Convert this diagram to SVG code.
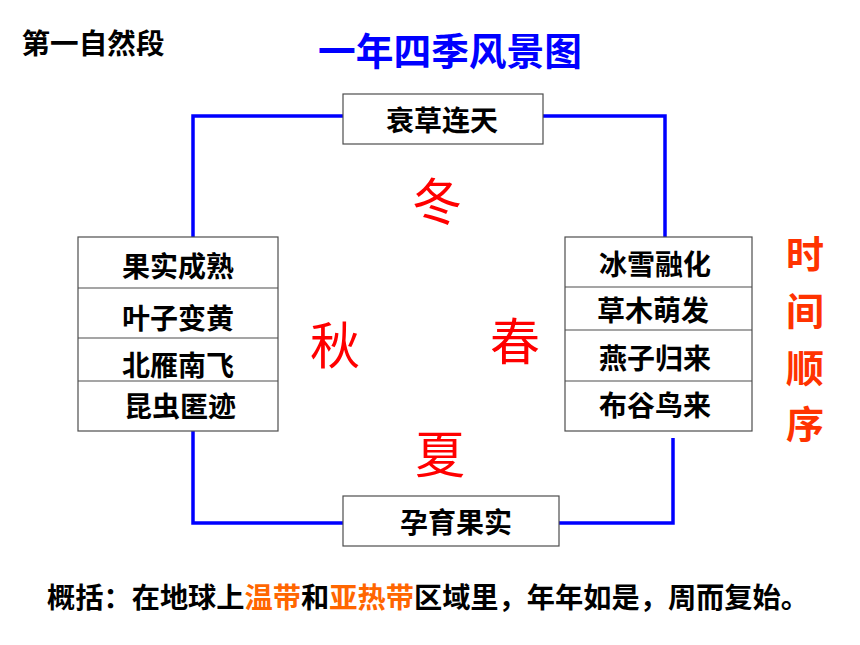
<svg xmlns="http://www.w3.org/2000/svg" width="860" height="645" viewBox="0 0 860 645">
<style>
.bg{fill:#ffffff}
.box{fill:#ffffff;stroke:#4d4d4d;stroke-width:1.2}
.sep{stroke:#4d4d4d;stroke-width:1.2}
.con{fill:none;stroke:#0000ff;stroke-width:3.5;stroke-linejoin:miter}
.lbl{font-family:"Noto Sans CJK SC","Noto Sans CJK TC",sans-serif;font-weight:bold;font-size:28px;fill:#000000;text-anchor:middle;dominant-baseline:central}
.season{font-family:"Noto Sans CJK SC","Noto Sans CJK TC",serif;font-weight:normal;font-size:50px;fill:#ff0000;text-anchor:middle;dominant-baseline:central}
.order{font-family:"Noto Sans CJK SC","Noto Sans CJK TC",sans-serif;font-weight:bold;font-size:38px;fill:#ff3300;text-anchor:middle;dominant-baseline:central}
.title{font-family:"Noto Sans CJK SC","Noto Sans CJK TC",sans-serif;font-weight:bold;font-size:38px;fill:#0000ff;text-anchor:middle;dominant-baseline:central}
.org{fill:#ff6600}
</style>
<rect class="bg" x="0" y="0" width="860" height="645"/>
<text class="lbl" x="93" y="42" textLength="143" lengthAdjust="spacingAndGlyphs">第一自然段</text>
<text class="title" x="450" y="48" textLength="264" lengthAdjust="spacingAndGlyphs">一年四季风景图</text>
<g id="connectors">
<polyline class="con" points="193,237 193,116 343,116"/>
<polyline class="con" points="543,116 665,116 665,237"/>
<polyline class="con" points="193,431 193,523 343,523"/>
<polyline class="con" points="559,523 673,523 673,438"/>
</g>
<g id="node-winter">
<rect class="box" x="343" y="94" width="200" height="50"/>
<text class="lbl" x="442" y="119">衰草连天</text>
</g>
<g id="node-autumn">
<rect class="box" x="78" y="237" width="200" height="194"/>
<line class="sep" x1="78" y1="288" x2="278" y2="288"/>
<line class="sep" x1="78" y1="338" x2="278" y2="338"/>
<line class="sep" x1="78" y1="381" x2="278" y2="381"/>
<text class="lbl" x="178" y="265">果实成熟</text>
<text class="lbl" x="178" y="317">叶子变黄</text>
<text class="lbl" x="178" y="364">北雁南飞</text>
<text class="lbl" x="180" y="405">昆虫匿迹</text>
</g>
<g id="node-spring">
<rect class="box" x="565" y="237" width="187" height="194"/>
<line class="sep" x1="565" y1="287" x2="752" y2="287"/>
<line class="sep" x1="565" y1="330" x2="752" y2="330"/>
<line class="sep" x1="565" y1="381" x2="752" y2="381"/>
<text class="lbl" x="655" y="263">冰雪融化</text>
<text class="lbl" x="653" y="309">草木萌发</text>
<text class="lbl" x="655" y="357">燕子归来</text>
<text class="lbl" x="655" y="404">布谷鸟来</text>
</g>
<g id="node-summer">
<rect class="box" x="343" y="496" width="216" height="50"/>
<text class="lbl" x="456" y="521">孕育果实</text>
</g>
<g id="seasons">
<text class="season" x="437" y="198">冬</text>
<text class="season" x="335" y="342">秋</text>
<text class="season" x="515" y="338">春</text>
<text class="season" x="440" y="451">夏</text>
</g>
<g id="time-order">
<text class="order" x="805" y="251">时</text>
<text class="order" x="805" y="308">间</text>
<text class="order" x="805" y="365">顺</text>
<text class="order" x="805" y="421">序</text>
</g>
<text class="lbl" x="428" y="596" textLength="762" lengthAdjust="spacingAndGlyphs">概括：在地球上<tspan class="org">温带</tspan>和<tspan class="org">亚热带</tspan>区域里，年年如是，周而复始。</text>
</svg>
